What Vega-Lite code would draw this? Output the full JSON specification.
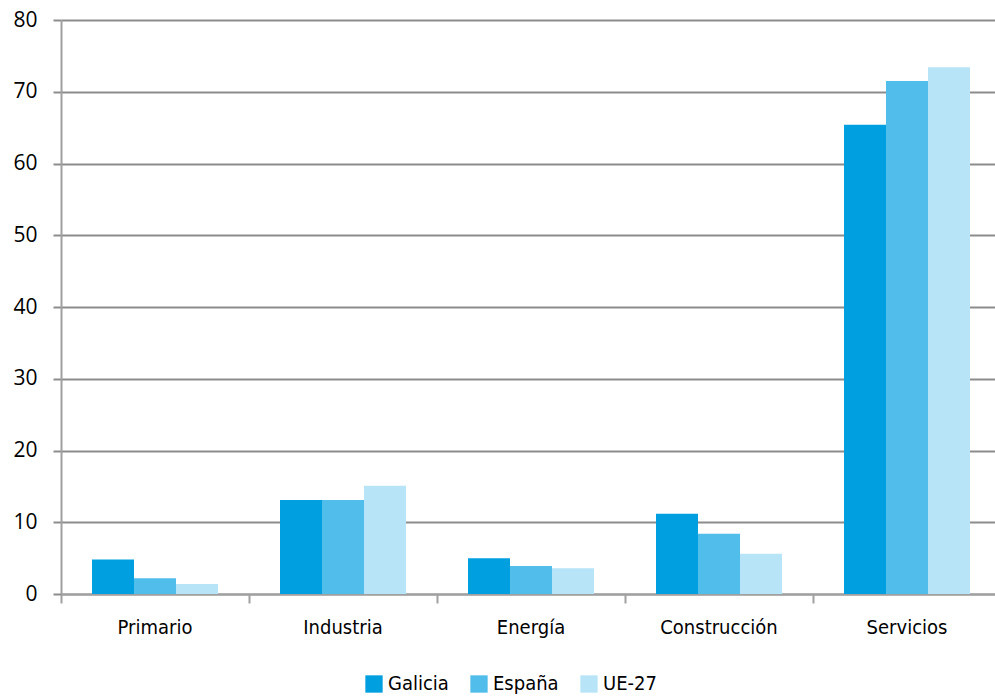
{
  "$schema": "https://vega.github.io/schema/vega-lite/v6.json",
  "width": 934,
  "height": 574,
  "padding": {"left": 61, "top": 20, "right": 0, "bottom": 104},
  "autosize": {"type": "none"},
  "background": "white",
  "data": {
    "values": [
      {"sector": "Primario", "region": "Galicia", "value": 4.8},
      {"sector": "Primario", "region": "España", "value": 2.2},
      {"sector": "Primario", "region": "UE-27", "value": 1.4},
      {"sector": "Industria", "region": "Galicia", "value": 13.1},
      {"sector": "Industria", "region": "España", "value": 13.1},
      {"sector": "Industria", "region": "UE-27", "value": 15.1},
      {"sector": "Energía", "region": "Galicia", "value": 5.0},
      {"sector": "Energía", "region": "España", "value": 3.9},
      {"sector": "Energía", "region": "UE-27", "value": 3.6},
      {"sector": "Construcción", "region": "Galicia", "value": 11.2},
      {"sector": "Construcción", "region": "España", "value": 8.4},
      {"sector": "Construcción", "region": "UE-27", "value": 5.6},
      {"sector": "Servicios", "region": "Galicia", "value": 65.4},
      {"sector": "Servicios", "region": "España", "value": 71.5},
      {"sector": "Servicios", "region": "UE-27", "value": 73.4}
    ]
  },
  "config": {
    "view": {"stroke": null},
    "axis": {"domainColor": "#a0a0a0", "tickColor": "#a0a0a0", "domainWidth": 2, "tickWidth": 2}
  },
  "mark": {"type": "bar"},
  "encoding": {
    "x": {
      "field": "sector",
      "type": "nominal",
      "sort": ["Primario", "Industria", "Energía", "Construcción", "Servicios"],
      "scale": {"paddingInner": 0, "paddingOuter": 0, "range": [0, 940]},
      "axis": {
        "title": null,
        "labelAngle": 0,
        "bandPosition": 0,
        "tickSize": 9,
        "labelPadding": 14,
        "labelFont": "DejaVu Sans Condensed",
        "labelFontSize": 20,
        "labelColor": "#000000",
        "grid": false
      }
    },
    "xOffset": {
      "field": "region",
      "type": "nominal",
      "sort": ["Galicia", "España", "UE-27"],
      "scale": {"paddingInner": 0, "paddingOuter": 0.738}
    },
    "y": {
      "field": "value",
      "type": "quantitative",
      "scale": {"domain": [0, 80]},
      "axis": {
        "title": null,
        "values": [0, 10, 20, 30, 40, 50, 60, 70, 80],
        "tickSize": 8,
        "labelPadding": 16,
        "labelFont": "Open Sans",
        "labelFontSize": 21,
        "labelColor": "#000000",
        "grid": true,
        "gridColor": "#8c8c8c",
        "gridWidth": 2,
        "tickColor": "#8c8c8c",
        "domainColor": "#a0a0a0"
      }
    },
    "color": {
      "field": "region",
      "type": "nominal",
      "sort": ["Galicia", "España", "UE-27"],
      "scale": {"domain": ["Galicia", "España", "UE-27"], "range": ["#009fe0", "#50bdea", "#b7e5f7"]},
      "legend": {
        "title": null,
        "orient": "none",
        "legendX": 303,
        "legendY": 654,
        "direction": "horizontal",
        "symbolType": "square",
        "symbolSize": 300,
        "symbolStrokeWidth": 0,
        "labelFont": "DejaVu Sans Condensed",
        "labelFontSize": 20,
        "labelColor": "#000000",
        "columnPadding": 20
      }
    }
  }
}
